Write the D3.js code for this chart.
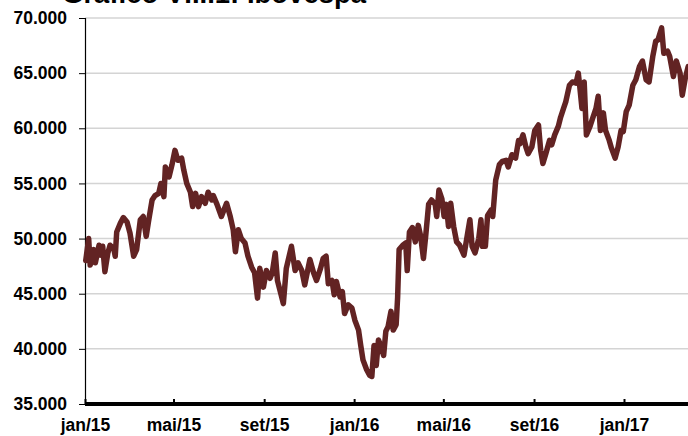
<!DOCTYPE html>
<html>
  <head>
    <meta charset="utf-8">
    <title>Ibovespa</title>
    <script src="https://d3js.org/d3.v7.min.js"></script>
    <style>
      body {
        margin: 0;
        background-color: white;
      }
      svg {
        display: block;
        overflow: hidden;
      }
      text {
        font-family: "Liberation Sans", Arial, sans-serif;
        font-weight: bold;
        fill: black;
      }
    </style>
  </head>
  <body>
    <script>
      // Ibovespa, pontos
      const dates = [
        "2015-01-02","2015-01-06","2015-01-08","2015-01-13","2015-01-15","2015-01-20","2015-01-22","2015-01-25",
        "2015-01-28","2015-02-01","2015-02-04","2015-02-09","2015-02-11","2015-02-13","2015-02-18","2015-02-22",
        "2015-02-27","2015-03-03","2015-03-08","2015-03-12","2015-03-17","2015-03-21","2015-03-25","2015-03-28",
        "2015-04-02","2015-04-06","2015-04-11","2015-04-14","2015-04-18","2015-04-20","2015-04-25","2015-04-29",
        "2015-05-03","2015-05-07","2015-05-12","2015-05-15","2015-05-19","2015-05-24","2015-05-27","2015-05-31",
        "2015-06-04","2015-06-08","2015-06-13","2015-06-17","2015-06-22","2015-06-24","2015-06-29","2015-07-05",
        "2015-07-12","2015-07-17","2015-07-21","2015-07-24","2015-07-28","2015-08-01","2015-08-06","2015-08-10",
        "2015-08-15","2015-08-19","2015-08-23","2015-08-26","2015-08-31","2015-09-04","2015-09-09","2015-09-12",
        "2015-09-16","2015-09-19","2015-09-24","2015-09-27","2015-10-01","2015-10-08","2015-10-13","2015-10-17",
        "2015-10-22","2015-10-26","2015-11-02","2015-11-07","2015-11-11","2015-11-16","2015-11-20","2015-11-24",
        "2015-11-27","2015-12-02","2015-12-05","2015-12-08","2015-12-13","2015-12-16","2015-12-19","2015-12-24",
        "2015-12-29","2016-01-02","2016-01-07","2016-01-10","2016-01-13","2016-01-18","2016-01-22","2016-01-25",
        "2016-01-28","2016-01-31","2016-02-03","2016-02-06","2016-02-10","2016-02-13","2016-02-16","2016-02-20",
        "2016-02-23","2016-02-27","2016-02-29","2016-03-02","2016-03-07","2016-03-11","2016-03-13","2016-03-16",
        "2016-03-20","2016-03-24","2016-03-28","2016-03-31","2016-04-04","2016-04-07","2016-04-11","2016-04-15",
        "2016-04-20","2016-04-22","2016-04-25","2016-04-29","2016-05-02","2016-05-05","2016-05-08","2016-05-11",
        "2016-05-15","2016-05-19","2016-05-23","2016-05-29","2016-06-03","2016-06-06","2016-06-09","2016-06-13",
        "2016-06-18","2016-06-21","2016-06-23","2016-06-27","2016-06-30","2016-07-05","2016-07-07","2016-07-11",
        "2016-07-16","2016-07-20","2016-07-25","2016-07-28","2016-08-02","2016-08-07","2016-08-11","2016-08-13",
        "2016-08-17","2016-08-21","2016-08-24","2016-08-29","2016-09-02","2016-09-07","2016-09-10","2016-09-13",
        "2016-09-17","2016-09-22","2016-09-25","2016-09-29","2016-10-04","2016-10-07","2016-10-11","2016-10-14",
        "2016-10-19","2016-10-23","2016-10-28","2016-10-31","2016-11-02","2016-11-05","2016-11-08","2016-11-11",
        "2016-11-16","2016-11-19","2016-11-24","2016-11-27","2016-11-30","2016-12-04","2016-12-07","2016-12-12",
        "2016-12-15","2016-12-20","2016-12-24","2016-12-28","2016-12-31","2017-01-04","2017-01-08","2017-01-13",
        "2017-01-17","2017-01-22","2017-01-26","2017-01-31","2017-02-04","2017-02-09","2017-02-13","2017-02-16",
        "2017-02-21","2017-02-24","2017-03-01","2017-03-04","2017-03-09","2017-03-13","2017-03-18","2017-03-21",
        "2017-03-25","2017-03-29","2017-04-02"
      ];
      const values = [
        48.0,50.0,47.6,49.0,47.8,49.4,48.5,49.3,
        47.0,48.7,49.4,49.1,48.4,50.6,51.4,51.9,
        51.5,50.5,48.4,49.0,51.7,52.0,50.2,51.5,
        53.5,53.9,54.1,55.0,53.8,56.5,55.6,56.7,
        58.0,57.1,57.3,56.2,55.0,54.2,52.9,54.1,
        52.9,53.8,53.2,54.2,53.5,53.9,53.1,52.0,
        53.2,52.0,50.8,48.8,50.8,50.0,49.6,48.4,
        47.4,46.9,44.6,47.3,45.6,47.1,46.4,46.9,
        48.7,46.2,44.9,44.1,47.3,49.3,47.1,47.8,
        47.1,45.8,48.1,46.9,46.2,47.2,48.2,48.4,
        45.9,46.2,44.9,46.1,44.7,45.2,43.2,44.0,
        43.7,42.6,41.7,40.3,39.0,38.1,37.6,37.5,
        40.3,38.5,40.8,40.3,39.4,41.6,42.0,43.4,
        41.7,42.2,44.7,49.0,49.4,49.6,47.1,50.6,
        51.0,49.7,51.2,50.3,48.2,50.2,53.1,53.5,
        53.1,52.0,54.4,53.6,52.0,53.1,51.1,53.2,
        51.1,49.7,49.4,48.5,50.5,51.7,49.3,48.7,
        50.0,51.7,49.3,49.3,52.1,52.6,52.0,55.3,
        56.7,57.0,57.1,56.5,57.6,57.3,58.9,58.6,
        59.4,58.3,57.7,58.3,59.8,60.3,58.0,56.8,
        57.7,58.9,58.5,59.4,60.2,61.0,61.8,62.4,
        63.9,64.2,64.1,65.0,63.8,61.8,64.2,59.4,
        60.2,60.8,61.8,62.9,59.8,61.4,59.8,58.9,
        58.2,57.3,58.3,59.8,59.7,61.5,62.1,63.9,
        64.4,65.6,66.1,64.4,64.2,66.5,67.9,68.0,
        69.1,66.8,67.0,66.5,64.7,66.1,65.0,63.0,
        64.5,65.6,65.0
      ].map(v => v * 1000);

      const yTicks = [35000, 40000, 45000, 50000, 55000, 60000, 65000, 70000];
      const xTickDates = ["2015-01-01","2015-05-01","2015-09-01","2016-01-01","2016-05-01","2016-09-01","2017-01-01"];
      const xTickLabels = ["jan/15","mai/15","set/15","jan/16","mai/16","set/16","jan/17"];
      const title = "Gráfico VIII.1: Ibovespa";

      const w = 688;
      const h = 436;
      const plotLeft = 85;
      const plotRight = 688;
      const plotTop = 18;
      const plotBottom = 404;

      const parseDate = d3.timeParse('%Y-%m-%d');
      const data = dates.map((d, i) => ({ date: parseDate(d), value: values[i] }));

      const locale = d3.formatLocale({ decimal: ',', thousands: '.', grouping: [3], currency: ['R$', ''] });
      const fmt = locale.format(',.0f');

      // jan/15 .. jan/17 spans the two years up to the jan/17 tick
      const xScale = d3.scaleTime()
                       .domain([parseDate('2015-01-01'), parseDate('2017-01-01')])
                       .range([plotLeft, 624]);

      const yScale = d3.scaleLinear()
                       .domain([35000, 70000])
                       .range([plotBottom, plotTop]);

      const svg = d3.select('body')
                    .append('svg')
                    .attr('width', w)
                    .attr('height', h);

      // title sits above the frame, mostly cropped like in the original
      svg.append('text')
         .attr('x', 62)
         .attr('y', 3)
         .style('font-size', '27.5px')
         .text(title);

      // gridlines
      svg.append('g')
         .selectAll('line')
         .data(yTicks.filter(t => t > 35000))
         .enter()
         .append('line')
         .attr('x1', plotLeft)
         .attr('x2', plotRight)
         .attr('y1', d => yScale(d))
         .attr('y2', d => yScale(d))
         .attr('stroke', '#d4d4d4')
         .attr('stroke-width', 1.5);

      const yAxis = d3.axisLeft(yScale)
                      .tickValues(yTicks)
                      .tickSize(6)
                      .tickPadding(12)
                      .tickFormat(d => fmt(d));

      const gy = svg.append('g')
                    .attr('transform', `translate(${plotLeft}, 0)`)
                    .call(yAxis);
      gy.select('.domain').attr('stroke', 'black').attr('stroke-width', 1.2);
      gy.selectAll('.tick line').attr('stroke', 'black').attr('stroke-width', 1);
      gy.selectAll('text')
        .style('font-size', '17.5px')
        .style('font-family', '"Liberation Sans", Arial, sans-serif')
        .style('font-weight', 'bold');

      // the index line
      const line = d3.line()
                     .x(d => xScale(d.date))
                     .y(d => yScale(d.value));

      svg.append('path')
         .datum(data)
         .attr('d', line)
         .attr('fill', 'none')
         .attr('stroke', '#622323')
         .attr('stroke-width', 5.5)
         .attr('stroke-linejoin', 'round')
         .attr('stroke-linecap', 'round');

      const xAxis = d3.axisBottom(xScale)
                      .tickValues(xTickDates.map(parseDate))
                      .tickSizeInner(-5)
                      .tickSizeOuter(0)
                      .tickPadding(15)
                      .tickFormat((d, i) => xTickLabels[i]);

      const gx = svg.append('g')
                    .attr('transform', `translate(0, ${plotBottom})`)
                    .call(xAxis);
      gx.select('.domain')
        .attr('d', `M${plotLeft},0H${plotRight + 10}`)
        .attr('stroke', 'black')
        .attr('stroke-width', 4);
      gx.selectAll('.tick line').attr('stroke', 'black').attr('stroke-width', 2);
      gx.selectAll('text')
        .style('font-size', '17.5px')
        .style('font-family', '"Liberation Sans", Arial, sans-serif')
        .style('font-weight', 'bold');
    </script>
  </body>
</html>
